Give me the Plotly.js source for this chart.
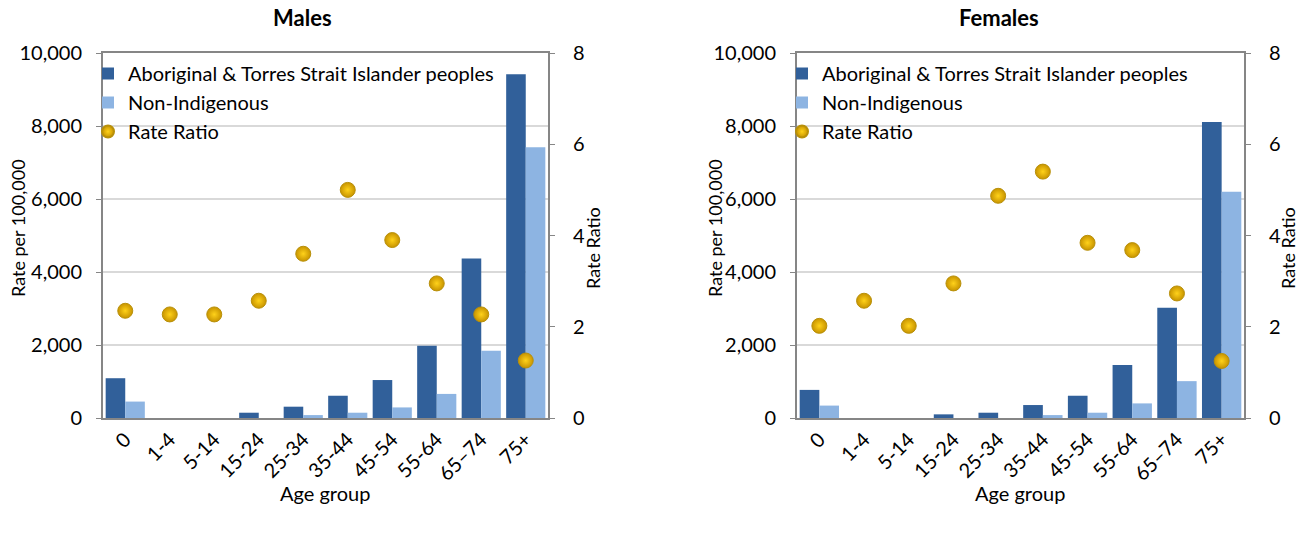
<!DOCTYPE html>
<html><head><meta charset="utf-8">
<script src="https://cdn.plot.ly/plotly-3.0.1.min.js"></script>
<style>body{margin:0;background:#fff}#chart{width:1310px;height:533px}</style>
</head><body><div id="chart"></div>
<script>
const ageGroups = ['0','1-4','5-14','15-24','25-34','35-44','45-54','55-64','65–74','75+'];
const malesIndigenous = [1090, 0, 0, 145, 310, 610, 1040, 1980, 4370, 9420];
const malesNonIndigenous = [450, 0, 0, 0, 80, 145, 290, 660, 1840, 7420];
const malesRateRatio = [2.35, 2.27, 2.27, 2.57, 3.6, 5.0, 3.9, 2.95, 2.27, 1.26];
const femalesIndigenous = [770, 0, 0, 100, 145, 355, 610, 1450, 3020, 8110];
const femalesNonIndigenous = [340, 0, 0, 0, 0, 80, 145, 400, 1010, 6200];
const femalesRateRatio = [2.02, 2.57, 2.02, 2.95, 4.87, 5.4, 3.84, 3.68, 2.73, 1.25];
const seriesNames = ['Aboriginal & Torres Strait Islander peoples', 'Non-Indigenous', 'Rate Ratio'];

const W = 1310, H = 533;
const X = p => p / W, Y = p => 1 - p / H;
const FONT = 'Lato, "Open Sans", sans-serif';
const darkBlue = '#31609A', lightBlue = '#8DB4E2';

function traces(ind, non, rr, xa, ya, ya2, lg) {
  return [
    {type:'bar', x:ageGroups, y:ind, name:seriesNames[0], xaxis:xa, yaxis:ya, legend:lg,
     marker:{color:darkBlue, line:{width:0}}},
    {type:'bar', x:ageGroups, y:non, name:seriesNames[1], xaxis:xa, yaxis:ya, legend:lg,
     marker:{color:lightBlue, line:{width:0}}},
    {type:'scatter', mode:'markers', x:ageGroups, y:rr, name:seriesNames[2], xaxis:xa, yaxis:ya2, legend:lg,
     marker:{size:15, color:'#C89400', gradient:{type:'radial', color:'#FFD21A'}, line:{color:'#B8900A', width:1}}}
  ];
}

const data = [
  ...traces(malesIndigenous, malesNonIndigenous, malesRateRatio, 'x', 'y', 'y2', 'legend'),
  ...traces(femalesIndigenous, femalesNonIndigenous, femalesRateRatio, 'x2', 'y3', 'y4', 'legend2')
];

const lineC = '#868686', gridC = '#D9D9D9';
const tickFont = {family:FONT, size:20, color:'#000'};
function xAx(d, anchor) {
  return {domain:d, anchor:anchor, range:[-0.5, 9.5], autorange:false, showline:true, mirror:true, linecolor:lineC, linewidth:2,
    tickangle:-45, tickfont:tickFont, ticks:'', showgrid:false, fixedrange:true};
}
function yAx(d, anchor) {
  return {domain:d, anchor:anchor, range:[0,10000], dtick:2000, tickformat:',', showline:true,
    linecolor:lineC, linewidth:2, gridcolor:gridC, gridwidth:1.5, ticks:'outside', ticklen:5, tickcolor:lineC,
    tickfont:tickFont, zeroline:false, ticklabelstandoff:10};
}
function y2Ax(over, anchor) {
  return {overlaying:over, anchor:anchor, side:'right', range:[0,8], dtick:2, showgrid:false, showline:true,
    linecolor:lineC, linewidth:2, ticks:'outside', ticklen:5, tickcolor:lineC, tickfont:tickFont, zeroline:false,
    ticklabelstandoff:14};
}
const yd = [Y(418), Y(53)];
const legendCommon = {bgcolor:'rgba(0,0,0,0)', font:{family:FONT, size:20, color:'#000'}, xanchor:'left', yanchor:'top',
  traceorder:'normal', itemwidth:30, tracegroupgap:0, itemsizing:'constant'};

const ann = (x, y, text, extra) => Object.assign({xref:'paper', yref:'paper', x:x, y:y, text:text, showarrow:false,
  xanchor:'center', yanchor:'middle', font:{family:FONT, size:18, color:'#000'}}, extra||{});

const layout = {
  width:W, height:H, margin:{l:0,r:0,t:0,b:0}, paper_bgcolor:'#fff', plot_bgcolor:'#fff',
  barmode:'group', bargap:0.12, bargroupgap:0, showlegend:true,
  font:{family:FONT, size:18, color:'#000'},
  xaxis: xAx([X(103), X(548)], 'y'),
  yaxis: yAx(yd, 'x'),
  yaxis2: y2Ax('y', 'x'),
  xaxis2: xAx([X(797), X(1244)], 'y3'),
  yaxis3: yAx(yd, 'x2'),
  yaxis4: y2Ax('y3', 'x2'),
  legend: Object.assign({x:X(88), y:Y(54)}, legendCommon),
  legend2: Object.assign({x:X(782), y:Y(54)}, legendCommon),
  annotations:[
    ann(X(302), Y(18), '<b>Males</b>', {font:{family:FONT, size:22, color:'#000'}}),
    ann(X(999), Y(18), '<b>Females</b>', {font:{family:FONT, size:22, color:'#000'}}),
    ann(X(18), Y(228), 'Rate per 100,000', {textangle:-90}),
    ann(X(593), Y(248), 'Rate Ratio', {textangle:-90}),
    ann(X(715), Y(228), 'Rate per 100,000', {textangle:-90}),
    ann(X(1288), Y(248), 'Rate Ratio', {textangle:-90}),
    ann(X(325), Y(493), 'Age group', {font:{family:FONT, size:20, color:'#000'}}),
    ann(X(1020), Y(493), 'Age group', {font:{family:FONT, size:20, color:'#000'}})
  ]
};
Plotly.newPlot('chart', data, layout, {displayModeBar:false, staticPlot:true});
</script></body></html>
